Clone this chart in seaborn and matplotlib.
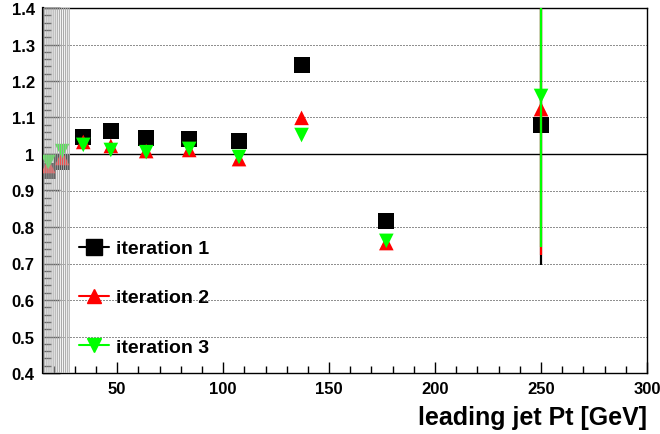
import matplotlib
matplotlib.use("Agg")
import matplotlib.pyplot as plt
import seaborn as sns
import numpy as np
from matplotlib.lines import Line2D
from matplotlib.ticker import MultipleLocator, FormatStrFormatter

# ---- data ----
pt = [17.5, 24, 34, 47, 63.7, 84, 107.5, 137, 177, 250]
iter1 = [0.953, 0.978, 1.047, 1.063, 1.044, 1.041, 1.036, 1.244, 0.816, 1.080]
iter2 = [0.967, 0.989, 1.033, 1.022, 1.008, 1.011, 0.986, 1.099, 0.756, 1.123]
iter3 = [0.978, 1.008, 1.025, 1.011, 1.005, 1.014, 0.992, 1.052, 0.762, 1.159]
err1 = [0.005, 0.005, 0.005, 0.005, 0.005, 0.005, 0.005, 0.005, 0.005, 0.384]
err2 = [0.005, 0.005, 0.005, 0.005, 0.005, 0.005, 0.005, 0.005, 0.005, 0.400]
err3 = [0.005, 0.005, 0.005, 0.005, 0.005, 0.005, 0.005, 0.005, 0.005, 0.414]
labels = ["iteration 1", "iteration 2", "iteration 3"]
hatch_range = [15, 27.8]

sns.set_theme(style="white")
plt.rcParams["font.family"] = ["Liberation Sans", "DejaVu Sans"]
plt.rcParams["font.weight"] = "bold"
plt.rcParams["hatch.linewidth"] = 0.7
for key in ["text.color", "axes.labelcolor", "xtick.color", "ytick.color",
            "xtick.labelcolor", "ytick.labelcolor"]:
    plt.rcParams[key] = "black"

fig = plt.figure(figsize=(6.6, 4.35), dpi=100)
ax = fig.add_axes([43 / 660, 1 - 374 / 435, 604 / 660, 365 / 435])

series = [
    (iter1, err1, "black", "s", 11.5),
    (iter2, err2, "#ff0000", "^", 10.5),
    (iter3, err3, "#00ff00", "v", 10.5),
]
z = 3
for vals, errs, col, mk, ms in series:
    ax.errorbar(pt, vals, yerr=errs, fmt="none", ecolor=col, elinewidth=1.6,
                capsize=0, zorder=z)
    sns.scatterplot(x=pt, y=vals, marker=mk, s=ms ** 2, color=col,
                    edgecolor="none", linewidth=0, ax=ax, zorder=z + 0.5)
    z += 1

# grid and reference line
for yv in [0.5, 0.6, 0.7, 0.8, 0.9, 1.1, 1.2, 1.3]:
    ax.axhline(yv, color="#222222", lw=0.72, ls=(0, (1, 2)), zorder=1)
ax.axhline(1.0, color="black", lw=1.0, zorder=2)

# hatched region
ax.axvspan(hatch_range[0], hatch_range[1], facecolor=(0.88, 0.88, 0.88, 0.35),
           edgecolor="#a5a5a5", hatch="|" * 8, linewidth=0, zorder=8)

ax.set_xlim(15, 300)
ax.set_ylim(0.4, 1.4)
ax.xaxis.set_major_locator(MultipleLocator(50))
ax.xaxis.set_minor_locator(MultipleLocator(10))
ax.yaxis.set_major_locator(MultipleLocator(0.1))
ax.yaxis.set_minor_locator(MultipleLocator(0.02))
ax.yaxis.set_major_formatter(FormatStrFormatter("%g"))
ax.tick_params(axis="both", which="both", direction="in", colors="black",
               labelcolor="black", labelsize=12)
ax.tick_params(axis="x", which="major", length=8, width=1, pad=6, bottom=True)
ax.tick_params(axis="x", which="minor", length=5, width=1, bottom=True)
ax.tick_params(axis="y", which="major", length=12, width=1, pad=6, left=True)
ax.tick_params(axis="y", which="minor", length=6, width=1, left=True)
for lab in ax.get_xticklabels() + ax.get_yticklabels():
    lab.set_fontweight("bold")
    lab.set_color("black")
for sp in ax.spines.values():
    sp.set_color("black")
    sp.set_linewidth(1.0)
    sp.set_visible(True)
ax.spines["left"].set_linewidth(1.6)

ax.set_xlabel("leading jet Pt [GeV]", fontsize=18, fontweight="bold",
              loc="right", labelpad=6, color="black")
ax.set_ylabel("")

handles = [
    Line2D([], [], color="black", marker="s", markersize=11.5, lw=1.5),
    Line2D([], [], color="#ff0000", marker="^", markersize=10.5, lw=1.5),
    Line2D([], [], color="#00ff00", marker="v", markersize=10.5, lw=1.5),
]
leg = ax.legend(handles, labels, loc="upper left",
                bbox_to_anchor=(36 / 604, 0.365), frameon=False,
                prop={"size": 14, "weight": "bold"}, handlelength=1.55,
                handletextpad=0.36, labelspacing=1.62, borderpad=0,
                borderaxespad=0)
for t in leg.get_texts():
    t.set_color("black")
leg.set_zorder(10)

fig.savefig("out.png", dpi=100)
